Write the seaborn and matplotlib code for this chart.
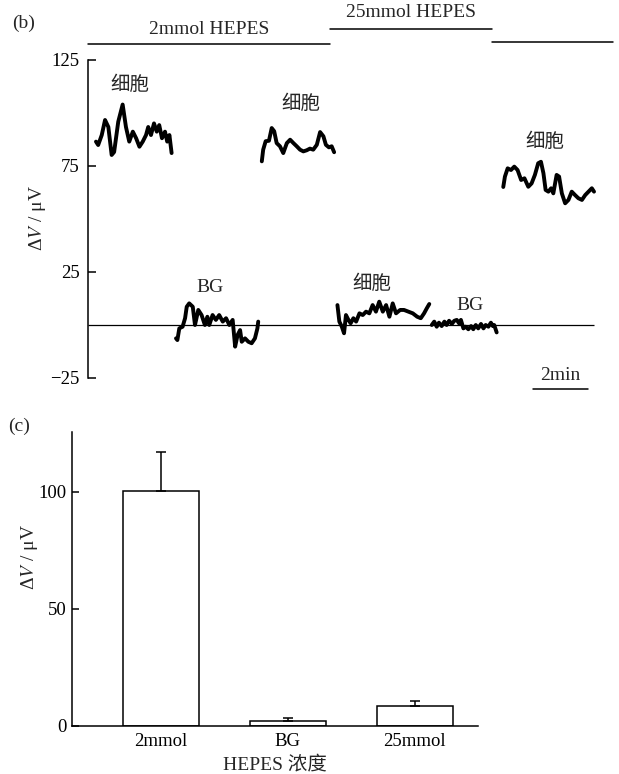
import numpy as np
import pandas as pd
import matplotlib
matplotlib.use("Agg")
import matplotlib.pyplot as plt
import seaborn as sns

sns.set_theme(style="white")
plt.rcParams['font.family'] = ['Liberation Serif', 'Noto Sans CJK SC', 'DejaVu Sans']
plt.rcParams['mathtext.fontset'] = 'stix'

# ---------------- data: panel (b) traces (time in min, ΔV in μV) ----------------
cell1_t = [0.29, 0.37, 0.50, 0.62, 0.74, 0.86, 0.95, 1.10, 1.26, 1.38, 1.50, 1.63, 1.75,
           1.87, 1.99, 2.11, 2.19, 2.29, 2.40, 2.50, 2.59, 2.69, 2.80, 2.88, 2.96, 3.04]
cell1_v = [86.5, 84.9, 89.6, 96.7, 93.4, 80.2, 81.6, 95.9, 104.0, 93.4, 86.5, 91.2, 88.1,
           84.1, 86.5, 89.6, 93.4, 89.6, 95.1, 91.2, 94.3, 88.1, 91.2, 86.5, 89.6, 81.1]

bg1_t = [3.20, 3.25, 3.32, 3.44, 3.53, 3.59, 3.68, 3.81, 3.89, 4.01, 4.13, 4.25, 4.34, 4.41,
         4.53, 4.65, 4.77, 4.90, 5.02, 5.14, 5.26, 5.35, 5.44, 5.53, 5.59, 5.71, 5.83, 5.95,
         6.07, 6.16, 6.19]
bg1_v = [-6.3, -7.1, -1.6, -0.8, 3.2, 8.6, 10.2, 8.6, 0.0, 7.1, 4.7, 0.0, 3.9, 0.0,
         4.7, 2.4, 4.7, 1.6, 3.2, 0.0, 2.4, -10.2, -4.7, -2.4, -7.9, -6.3, -7.9, -8.6,
         -6.3, -1.6, 1.6]

cell2_t = [6.32, 6.37, 6.46, 6.58, 6.68, 6.77, 6.86, 6.98, 7.10, 7.23, 7.35, 7.47, 7.59,
           7.71, 7.83, 7.95, 8.07, 8.19, 8.32, 8.44, 8.56, 8.65, 8.76, 8.86, 8.95]
cell2_v = [77.2, 82.7, 86.7, 86.9, 92.9, 91.4, 85.8, 84.3, 81.1, 85.8, 87.4, 85.8, 84.3,
           82.7, 81.9, 82.4, 83.2, 82.7, 85.0, 91.0, 89.0, 85.0, 83.8, 84.3, 81.5]

cell3_t = [9.07, 9.14, 9.23, 9.31, 9.38, 9.47, 9.55, 9.65, 9.75, 9.87, 9.99, 10.11, 10.23,
           10.35, 10.47, 10.59, 10.72, 10.84, 10.96, 11.08, 11.20, 11.35, 11.49, 11.65,
           11.81, 11.97, 12.10, 12.22, 12.32, 12.41]
cell3_v = [9.4, 1.6, -0.8, -3.9, 4.7, 2.4, 0.8, 3.2, 1.6, 5.5, 4.7, 6.3, 5.5,
           9.4, 6.3, 11.0, 6.3, 9.4, 3.9, 10.2, 5.5, 7.1, 7.1, 6.3,
           5.5, 3.9, 3.2, 5.5, 7.9, 9.9]

bg2_t = [12.50, 12.59, 12.68, 12.76, 12.86, 12.96, 13.04, 13.13, 13.23, 13.32, 13.41, 13.49,
         13.56, 13.65, 13.73, 13.83, 13.93, 14.01, 14.10, 14.19, 14.29, 14.38, 14.46, 14.56,
         14.65, 14.72, 14.77, 14.86]
bg2_v = [0.0, 1.6, -0.8, 1.1, -0.5, 1.6, 0.0, 2.0, 0.5, 2.0, 2.4, 0.8,
         2.4, -1.6, -0.8, -2.0, -0.5, -2.0, 0.0, -1.6, 0.5, -1.6, 0.0, -0.8,
         1.1, -0.5, 0.0, -3.5]

cell4_t = [15.10, 15.16, 15.26, 15.38, 15.50, 15.62, 15.75, 15.87, 16.01, 16.13, 16.25,
           16.37, 16.47, 16.56, 16.64, 16.74, 16.84, 16.92, 17.04, 17.13, 17.23, 17.35,
           17.47, 17.59, 17.71, 17.83, 17.96, 18.08, 18.20, 18.32, 18.40]
cell4_v = [65.1, 70.0, 73.9, 73.1, 74.7, 73.1, 68.4, 69.2, 65.2, 66.8, 70.8,
           76.3, 77.0, 71.6, 63.7, 62.9, 64.5, 62.1, 70.8, 70.0, 62.1, 57.4,
           59.0, 62.9, 61.3, 59.8, 59.0, 61.3, 62.9, 64.5, 62.9]

traces = [(cell1_t, cell1_v), (bg1_t, bg1_v), (cell2_t, cell2_v),
          (cell3_t, cell3_v), (bg2_t, bg2_v), (cell4_t, cell4_v)]

trace_labels = ["细胞", "BG", "细胞", "细胞", "BG", "细胞"]
label_t = [1.53, 4.44, 7.75, 10.33, 13.89, 16.62]
label_v = [113.2, 17.5, 104.2, 19.3, 9.0, 86.3]

# condition bars above panel (b)
cond_names = ["2mmol HEPES", "25mmol HEPES", ""]
cond_start = [0.0, 8.8, 14.69]
cond_end = [8.8, 14.69, 19.09]
cond_line_v = [132.5, 139.6, 133.5]
cond_text_v = [139.6, 147.2, 0.0]

b_yticks = [-25, 25, 75, 125]
baseline_end = 18.4
scalebar_len = 2.0
scalebar_start = 16.18

# ---------------- data: panel (c) bars ----------------
categories = ["2mmol", "BG", "25mmol"]
bar_means = [100.4, 2.1, 8.5]
bar_err = [16.7, 1.3, 2.2]
c_yticks = [0, 50, 100]

FS = 14
TFS = 13.5
LW = 1.1

fig = plt.figure(figsize=(6.19, 7.74), dpi=100)

# ---------------- panel (b) ----------------
axb = fig.add_axes([88 / 619, 1 - 378 / 774, 525 / 619, 371 / 774])
for t, v in traces:
    sns.lineplot(x=t, y=v, ax=axb, color="black", lw=2.8, sort=False, estimator=None)
axb.hlines(0, 0, baseline_end, color="black", lw=0.9)

for name, t, v in zip(trace_labels, label_t, label_v):
    axb.text(t, v, name, ha="center", va="center", fontsize=FS)

for name, s, e, lv, tv in zip(cond_names, cond_start, cond_end, cond_line_v, cond_text_v):
    axb.plot([s, e], [lv, lv], color="black", lw=LW, clip_on=False)
    if name:
        axb.text((s + e) / 2, tv, name, ha="center", va="center", fontsize=FS)

# scale bar
axb.plot([scalebar_start, scalebar_start + scalebar_len], [-30.2, -30.2],
         color="black", lw=LW, clip_on=False)
axb.text(scalebar_start + scalebar_len / 2, -23.6, "2min", ha="center", va="center",
         fontsize=FS)

axb.set_xlim(0, 19.09)
axb.set_ylim(-25, 150)
axb.set_yticks(b_yticks)
axb.set_yticklabels([str(v).replace("-", "−") for v in b_yticks])
axb.set_xticks([])
for s in ["top", "right", "bottom"]:
    axb.spines[s].set_visible(False)
axb.spines["left"].set_bounds(-25, 125)
axb.spines["left"].set_color("black")
axb.spines["left"].set_linewidth(LW)
axb.tick_params(axis="y", direction="in", length=6, width=LW, pad=6, labelsize=TFS,
                left=True, colors="black")
axb.set_ylabel("")
fig.text(38 / 619, 1 - 218 / 774, "Δ$V$ / μV", rotation=90, ha="center", va="center",
         fontsize=FS)
fig.text(24 / 619, 1 - 23 / 774, "(b)", ha="center", va="center", fontsize=FS)

# ---------------- panel (c) ----------------
axc = fig.add_axes([72 / 619, 1 - 726 / 774, 406 / 619, 294 / 774])
df = pd.DataFrame({"cond": categories, "dv": bar_means})
sns.barplot(data=df, x="cond", y="dv", ax=axc, color="white", edgecolor="black",
            linewidth=LW, width=0.6, errorbar=None, saturation=1)
axc.errorbar(range(len(categories)), bar_means, yerr=[[0] * len(bar_err), bar_err],
             fmt="none", ecolor="black", elinewidth=LW, capsize=3.5, capthick=LW)
axc.set_xlim(-0.70, 2.5)
axc.set_ylim(0, 125.6)
axc.set_yticks(c_yticks)
for s in ["top", "right"]:
    axc.spines[s].set_visible(False)
for s in ["left", "bottom"]:
    axc.spines[s].set_color("black")
    axc.spines[s].set_linewidth(LW)
axc.tick_params(axis="y", direction="in", length=5, width=LW, pad=4, labelsize=TFS,
                left=True, colors="black")
axc.tick_params(axis="x", length=0, pad=5, labelsize=TFS, colors="black")
axc.set_xlabel("HEPES 浓度", fontsize=FS, labelpad=4)
axc.set_ylabel("")
fig.text(30 / 619, 1 - 557 / 774, "Δ$V$ / μV", rotation=90, ha="center", va="center",
         fontsize=FS)
fig.text(19 / 619, 1 - 426 / 774, "(c)", ha="center", va="center", fontsize=FS)

fig.savefig("out.png", dpi=100)
